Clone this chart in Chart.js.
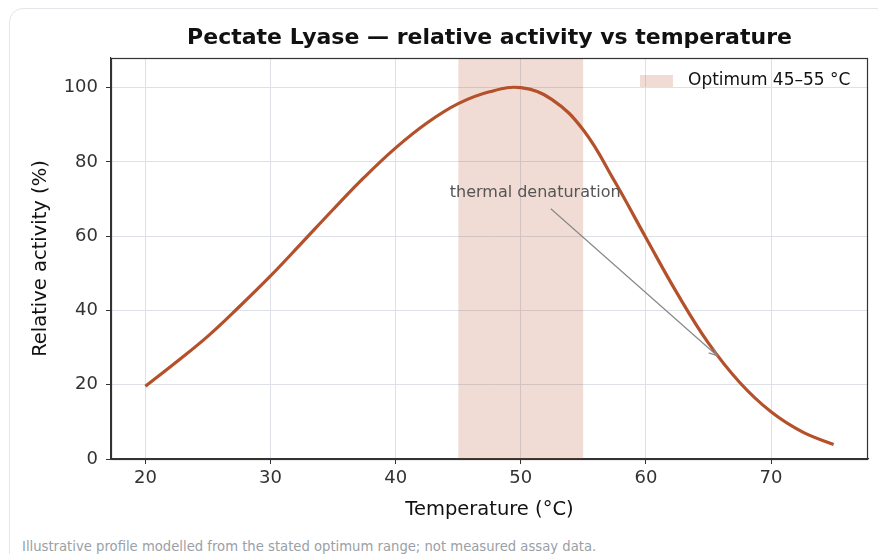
<!DOCTYPE html>
<html>
<head>
<meta charset="utf-8">
<script src="https://cdn.jsdelivr.net/npm/chart.js@4.4.1/dist/chart.umd.min.js"></script>
<style>
  html, body { margin: 0; padding: 0; background: #fff; overflow: hidden; }
  #card {
    position: absolute; left: 9px; top: 8px; width: 900px; height: 600px;
    border: 1px solid #e3e6ea; border-radius: 14px; box-sizing: border-box;
  }
  #weightChart { position: absolute; left: 0; top: 0; }
  #note {
    position: absolute; left: 22px; top: 539px;
    font: 13.2px "DejaVu Sans", sans-serif; color: #9aa0a6; white-space: nowrap;
  }
</style>
</head>
<body>
<div id="card"></div>
<canvas id="weightChart" width="878" height="535"></canvas>
<div id="note">Illustrative profile modelled from the stated optimum range; not measured assay data.</div>
<script>
// temperature (°C) and relative activity (%)
const temps = [20, 22.5, 25, 27.5, 30, 32.5, 35, 37.5, 40, 42.5, 45, 47.5, 50,
               52.5, 55, 57.5, 60, 62.5, 65, 67.5, 70, 72.5, 75];
const activity = [19.6, 26.2, 33.1, 41.0, 49.3, 58.2, 67.2, 75.9, 83.8, 90.5, 95.7, 98.9, 100,
                  96.8, 88.6, 74.8, 59.6, 44.6, 31.2, 20.6, 12.7, 7.3, 3.9];
const optimumRange = [45, 55];
const xTicks = [20, 30, 40, 50, 60, 70];
const yTicks = [0, 20, 40, 60, 80, 100];

const lineColor = '#b4512b';
const bandColor = 'rgba(180, 81, 43, 0.2)';
const font = '"DejaVu Sans", sans-serif';

// top/right spines + legend + annotation
const extras = {
  id: 'extras',
  afterDatasetsDraw(chart) {
    const { ctx, chartArea: a, scales: { x, y } } = chart;
    ctx.save();
    ctx.strokeStyle = '#333';
    ctx.lineWidth = 1.2;
    ctx.strokeRect(a.left + 0.5, a.top + 0.5, a.right - a.left - 1, a.bottom - a.top);

    // annotation arrow
    const x0 = x.getPixelForValue(52.4), y0 = y.getPixelForValue(67.4);
    const x1 = x.getPixelForValue(65.7), y1 = y.getPixelForValue(27.8);
    ctx.strokeStyle = '#888';
    ctx.lineWidth = 1.2;
    ctx.beginPath();
    ctx.moveTo(x0, y0);
    ctx.lineTo(x1, y1);
    const ang = Math.atan2(y1 - y0, x1 - x0);
    const hl = 9;
    ctx.moveTo(x1 - hl * Math.cos(ang - 0.4), y1 - hl * Math.sin(ang - 0.4));
    ctx.lineTo(x1, y1);
    ctx.lineTo(x1 - hl * Math.cos(ang + 0.4), y1 - hl * Math.sin(ang + 0.4));
    ctx.stroke();

    ctx.fillStyle = '#555';
    ctx.font = '16px ' + font;
    ctx.textAlign = 'center';
    ctx.textBaseline = 'middle';
    ctx.fillText('thermal denaturation', x.getPixelForValue(51.15), y.getPixelForValue(71.8));

    // legend
    const band = chart.data.datasets[1];
    ctx.fillStyle = band.backgroundColor;
    ctx.fillRect(a.right - 228, a.top + 17, 33, 12);
    ctx.fillStyle = '#111';
    ctx.font = '17px ' + font;
    ctx.textAlign = 'left';
    ctx.fillText(band.label, a.right - 180, a.top + 23);
    ctx.restore();
  }
};

const ctx = document.getElementById('weightChart').getContext('2d');
new Chart(ctx, {
  type: 'line',
  data: {
    datasets: [
      {
        label: 'Relative activity',
        data: temps.map((t, i) => ({ x: t, y: activity[i] })),
        borderColor: lineColor,
        borderWidth: 3.2,
        pointRadius: 0,
        tension: 0.4,
        fill: false,
        order: 1
      },
      {
        label: 'Optimum 45–55 °C',
        data: [{ x: optimumRange[0], y: 108 }, { x: optimumRange[1], y: 108 }],
        backgroundColor: bandColor,
        borderWidth: 0,
        pointRadius: 0,
        fill: 'origin',
        order: 2
      }
    ]
  },
  options: {
    responsive: false,
    animation: false,
    layout: { padding: { left: 0, right: 10, top: 0, bottom: 0 } },
    plugins: {
      legend: { display: false },
      tooltip: { enabled: false },
      title: {
        display: true,
        fullSize: false,
        text: 'Pectate Lyase — relative activity vs temperature',
        color: '#111',
        font: { family: font, size: 22, weight: 'bold' },
        padding: { top: 25, bottom: 6.6 }
      }
    },
    scales: {
      x: {
        type: 'linear',
        min: 17.25,
        max: 77.75,
        afterBuildTicks: s => { s.ticks = xTicks.map(v => ({ value: v })); },
        afterFit: s => { s.height = 76; },
        title: {
          display: true,
          text: 'Temperature (°C)',
          color: '#111',
          font: { family: font, size: 19.5 },
          padding: { top: 0, bottom: 13 }
        },
        ticks: { color: '#333', font: { family: font, size: 18 }, padding: 4, maxRotation: 0 },
        grid: { color: '#dde1e7', tickColor: '#333', tickLength: 5 },
        border: { color: '#333', width: 1.2 }
      },
      y: {
        min: 0,
        max: 108,
        afterBuildTicks: s => { s.ticks = yTicks.map(v => ({ value: v })); },
        afterFit: s => { s.width = 111; },
        title: {
          display: true,
          text: 'Relative activity (%)',
          color: '#111',
          font: { family: font, size: 19.5 },
          padding: { top: 29, bottom: 0 }
        },
        ticks: { color: '#333', font: { family: font, size: 18 }, padding: 8 },
        grid: { color: '#dde1e7', tickColor: '#333', tickLength: 5 },
        border: { color: '#333', width: 1.2 }
      }
    }
  },
  plugins: [extras]
});
</script>
</body>
</html>
